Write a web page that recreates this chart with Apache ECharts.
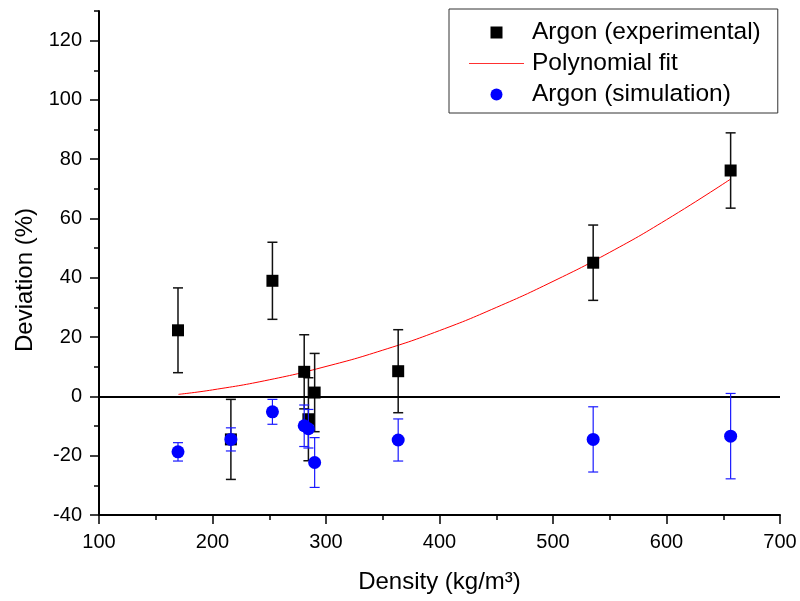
<!DOCTYPE html>
<html>
<head>
<meta charset="utf-8">
<script src="https://cdn.jsdelivr.net/npm/echarts@6/dist/echarts.min.js"></script>
<style>
  html, body { margin: 0; padding: 0; background: #fff; }
  #chart { width: 800px; height: 601px; }
</style>
</head>
<body>
<div id="chart"></div>
<script>
// Density of each measured state point (kg/m^3)
const density = [169.6, 216.2, 252.8, 280.8, 284.5, 290.0, 363.6, 535.4, 656.5];

// Experimental deviation (%) and its uncertainty
const expDeviation = [22.3, -14.5, 39.0, 8.3, -7.7, 1.3, 8.5, 45.1, 76.2];
const expError = [14.3, 13.5, 13.0, 12.5, 14.0, 13.2, 14.0, 12.7, 12.7];

// Simulated deviation (%) and its uncertainty
const simDeviation = [-18.7, -14.5, -5.2, -9.9, -10.9, -22.3, -14.7, -14.5, -13.4];
const simError = [3.1, 3.9, 4.2, 7.0, 6.5, 8.4, 7.1, 11.0, 14.4];

// Polynomial fit through the experimental points
const fitDensity = [170, 200, 250, 300, 350, 400, 450, 500, 550, 600, 656.5];
const fitDeviation = [0.7, 2.2, 5.6, 10.1, 15.6, 22.2, 30.0, 38.8, 48.6, 59.6, 73.3];

// Axis tick values
const xTicks = [100, 200, 300, 400, 500, 600, 700];
const yTicks = [-40, -20, 0, 20, 40, 60, 80, 100, 120];

const FONT = "'Liberation Sans', Arial, Helvetica, sans-serif";

const expPoints = density.map((d, i) => [d, expDeviation[i]]);
const expBars = density.map((d, i) => [d, expDeviation[i], expError[i]]);
const simPoints = density.map((d, i) => [d, simDeviation[i]]);
const simBars = density.map((d, i) => [d, simDeviation[i], simError[i]]);
const fitPoints = fitDensity.map((d, i) => [d, fitDeviation[i]]);

// Vertical error bar with short caps at both ends
function errorBars(color, width) {
  return function (params, api) {
    const x = api.value(0), y = api.value(1), e = api.value(2);
    const top = api.coord([x, y + e]);
    const bot = api.coord([x, y - e]);
    const half = 5;
    const style = { stroke: color, lineWidth: width, fill: null };
    return {
      type: 'group',
      children: [
        { type: 'line', shape: { x1: top[0], y1: top[1], x2: bot[0], y2: bot[1] }, style },
        { type: 'line', shape: { x1: top[0] - half, y1: top[1], x2: top[0] + half, y2: top[1] }, style },
        { type: 'line', shape: { x1: bot[0] - half, y1: bot[1], x2: bot[0] + half, y2: bot[1] }, style }
      ]
    };
  };
}

const chart = echarts.init(document.getElementById('chart'), null, { renderer: 'canvas' });

chart.setOption({
  animation: false,
  backgroundColor: '#ffffff',
  textStyle: { fontFamily: FONT, color: '#000' },
  grid: { left: 99, right: 20, top: 11, bottom: 86, containLabel: false, outerBoundsMode: 'none' },
  legend: {
    data: [
      { name: 'Argon (experimental)', icon: 'path://M0,0 L10,0 L10,10 L0,10 Z' },
      { name: 'Polynomial fit', icon: 'path://M0,0 L55,0 L55,1.2 L0,1.2 Z' },
      { name: 'Argon (simulation)', icon: 'circle' }
    ],
    orient: 'vertical',
    left: 449,
    top: 9,
    itemWidth: 55,
    itemHeight: 12,
    itemGap: 6,
    symbolKeepAspect: true,
    padding: [11, 17, 6, 20],
    borderColor: '#333',
    borderWidth: 1,
    textStyle: { fontFamily: FONT, fontSize: 24.5, lineHeight: 24.5, color: '#000', padding: [0, 0, 0, 3] }
  },
  xAxis: {
    type: 'value',
    min: xTicks[0],
    max: xTicks[xTicks.length - 1],
    interval: 100,
    name: 'Density (kg/m³)',
    nameLocation: 'middle',
    nameGap: 54,
    nameTextStyle: { fontFamily: FONT, fontSize: 24, lineHeight: 26, color: '#000' },
    axisLine: { show: true, onZero: false, lineStyle: { color: '#000', width: 2 } },
    axisTick: { show: true, inside: false, length: 9, lineStyle: { color: '#000', width: 1.5 } },
    minorTick: { show: true, splitNumber: 2, length: 5, lineStyle: { color: '#000', width: 1.5 } },
    axisLabel: { fontFamily: FONT, fontSize: 20, color: '#000', margin: 17 },
    splitLine: { show: false }
  },
  yAxis: [
    {
      type: 'value',
      min: yTicks[0],
      max: 130,
      interval: 20,
      name: 'Deviation (%)',
      nameLocation: 'middle',
      nameRotate: 90,
      nameGap: 60,
      nameTextStyle: { fontFamily: FONT, fontSize: 24, color: '#000', padding: [0, 34, 0, 0] },
      axisLine: { show: true, onZero: false, lineStyle: { color: '#000', width: 2 } },
      axisTick: { show: true, inside: false, length: 9, customValues: yTicks, lineStyle: { color: '#000', width: 1.5 } },
      axisLabel: { fontFamily: FONT, fontSize: 20, color: '#000', margin: 17, customValues: yTicks },
      splitLine: { show: false }
    },
    {
      type: 'value',
      min: yTicks[0],
      max: 130,
      interval: 10,
      position: 'left',
      axisLine: { show: false },
      axisTick: { show: true, inside: false, length: 5, lineStyle: { color: '#000', width: 1.5 } },
      axisLabel: { show: false },
      splitLine: { show: false }
    }
  ],
  series: [
    {
      name: 'exp-error',
      type: 'custom',
      renderItem: errorBars('#111', 1.5),
      data: expBars,
      encode: { x: 0, y: 1 },
      z: 3,
      silent: true
    },
    {
      name: 'Argon (experimental)',
      type: 'scatter',
      symbol: 'rect',
      symbolSize: 12,
      itemStyle: { color: '#000', opacity: 1 },
      data: expPoints,
      z: 4
    },
    {
      name: 'Polynomial fit',
      type: 'line',
      smooth: true,
      symbol: 'none',
      lineStyle: { color: '#ff0000', width: 1 },
      itemStyle: { color: '#ff3030' },
      data: fitPoints,
      z: 2,
      markLine: {
        silent: true,
        symbol: 'none',
        label: { show: false },
        lineStyle: { color: '#000', width: 2, type: 'solid' },
        data: [{ yAxis: 0 }]
      }
    },
    {
      name: 'sim-error',
      type: 'custom',
      renderItem: errorBars('#1a1aff', 1.2),
      data: simBars,
      encode: { x: 0, y: 1 },
      z: 5,
      silent: true
    },
    {
      name: 'Argon (simulation)',
      type: 'scatter',
      symbol: 'circle',
      symbolSize: 13,
      itemStyle: { color: '#0000ff', opacity: 1 },
      data: simPoints,
      z: 6
    }
  ]
});
</script>
</body>
</html>
